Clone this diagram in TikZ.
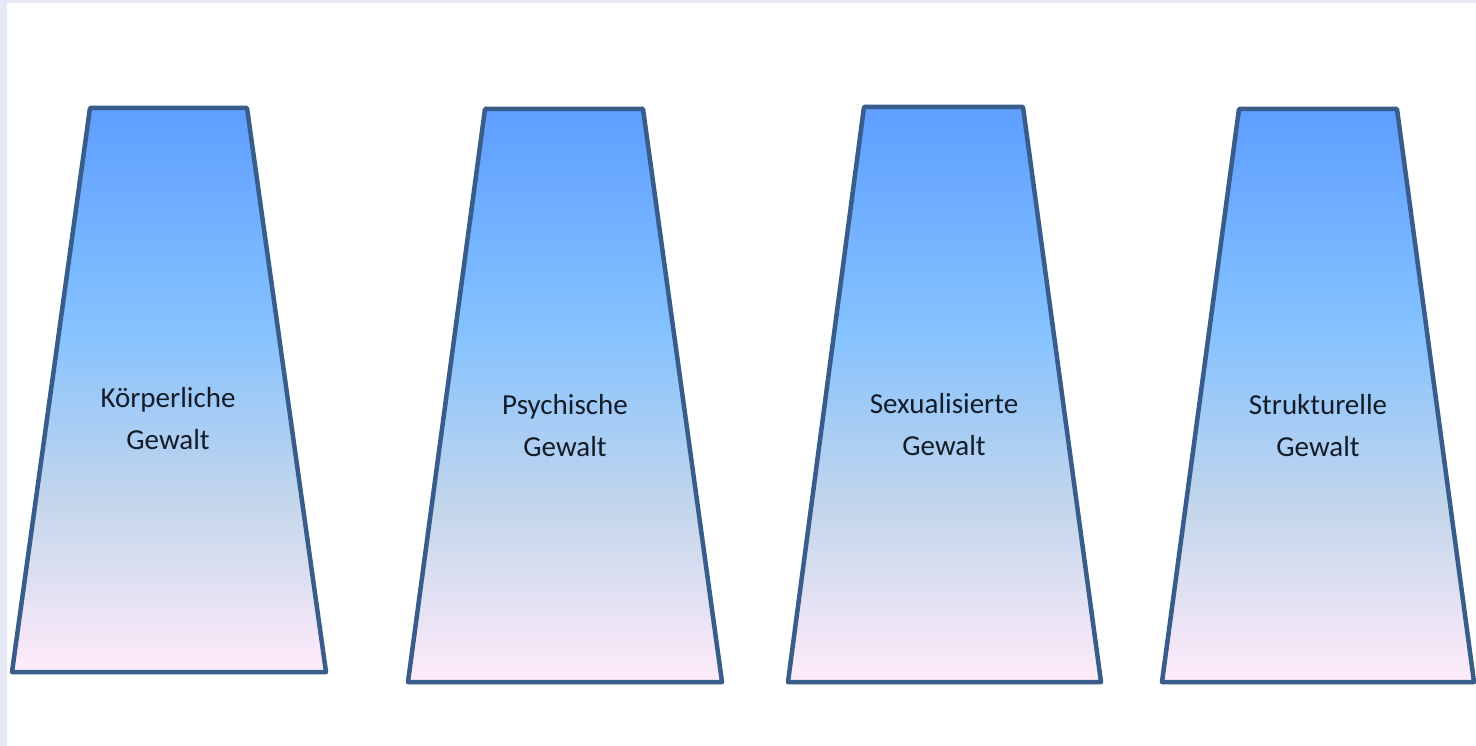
\documentclass[tikz,border=0pt]{standalone}
\usepackage{fontspec}
\setmainfont{Carlito}
\definecolor{bgframe}{HTML}{E4E9F4}
\definecolor{edge}{HTML}{385D8A}
\definecolor{txt}{HTML}{141C28}
\definecolor{gA}{HTML}{5E9EFF}
\definecolor{gB}{HTML}{85C2FF}
\definecolor{gC}{HTML}{C4D6EB}
\definecolor{gD}{HTML}{FFEBFA}
\pgfdeclareverticalshading{daybreak}{100bp}{color(0bp)=(gD); color(25bp)=(gD); color(40bp)=(gC); color(55.5bp)=(gB); color(75bp)=(gA); color(100bp)=(gA)}
\tikzset{
  trap/.style={draw=edge, line width=4.5pt, line join=round, shading=daybreak},
  lbl/.style={align=center, text=txt, font=\fontsize{29}{42}\selectfont, inner sep=0pt}
}
\begin{document}
\begin{tikzpicture}[x=1pt,y=-1pt]
\useasboundingbox (0,0) rectangle (1476,746);
\fill[bgframe] (0,0) rectangle (1476,746);
\fill[white] (7,3) rectangle (1476,746);
% trapezoids
\path[trap] (90,108) -- (247,108) -- (326,672) -- (12,672) -- cycle;
\path[trap] (485,109) -- (643,109) -- (722,682) -- (408,682) -- cycle;
\path[trap] (864,107) -- (1023,107) -- (1101,682) -- (788,682) -- cycle;
\path[trap] (1239,109) -- (1397,109) -- (1474,682) -- (1162,682) -- cycle;
% labels
\node[lbl] (k) at (168,419) {Körperliche\\Gewalt};
\node[lbl] (p) at (565,426) {Psychische\\Gewalt};
\node[lbl] (s) at (944,425) {Sexualisierte\\Gewalt};
\node[lbl] (st) at (1318,426) {Strukturelle\\Gewalt};
\end{tikzpicture}
\end{document}
